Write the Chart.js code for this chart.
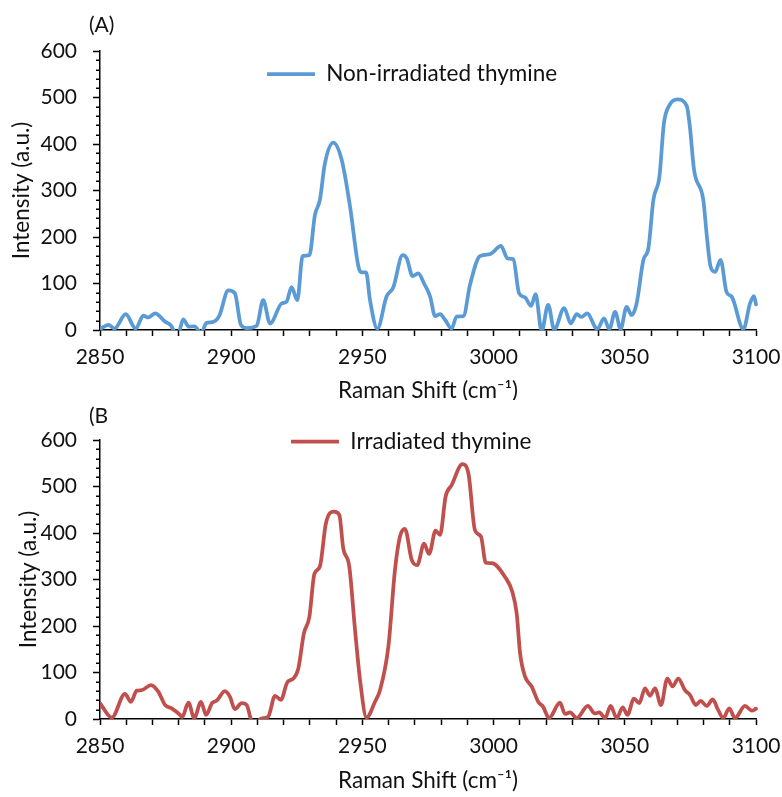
<!DOCTYPE html>
<html>
<head>
<meta charset="utf-8">
<script src="https://cdn.jsdelivr.net/npm/chart.js@4.4.1/dist/chart.umd.min.js"></script>
<style>
  html, body { margin: 0; padding: 0; background: #fff; }
  #wrap { position: relative; width: 782px; height: 797px; }
  canvas { position: absolute; left: 0; }
  .tag { position: absolute; font-family: Lato, sans-serif; font-size: 21px; line-height: 24px; color: #111; }
</style>
</head>
<body>
<div id="wrap">
  <canvas id="chartA" width="782" height="400" style="top:0"></canvas>
  <canvas id="chartB" width="782" height="402" style="top:395px"></canvas>
  <div class="tag" style="left:89px; top:12px">(A)</div>
  <div class="tag" style="left:89px; top:403px">(B</div>
</div>
<script>
// Raman shift (cm-1) and intensity (a.u.)
const shiftA = [2850, 2853.2, 2855.5, 2859.8, 2863.6, 2866.5, 2868.4, 2871, 2874.8, 2877, 2879, 2880.2,
  2881.7, 2883.9, 2886, 2888.5, 2890.6, 2892.8, 2895.4, 2898.9, 2901.4, 2903.7, 2905.9, 2909.7,
  2912.2, 2914.8, 2919.2, 2921.1, 2923, 2925.2, 2927.2, 2929.8, 2931.9, 2933.8, 2935.7, 2938.9,
  2942.1, 2945.3, 2948.5, 2949.7, 2951.4, 2952.9, 2955.7, 2959.2, 2961.8, 2965.3, 2966.9, 2969.1,
  2971.3, 2973.5, 2975.8, 2977.7, 2979.6, 2981.5, 2984, 2985.9, 2988.5, 2991, 2994.8, 2998.6,
  3002.8, 3005.3, 3007.5, 3009.7, 3012, 3014.3, 3016, 3018.3, 3020.8, 3023.1, 3026.9, 3029.4,
  3031.7, 3033.5, 3035.7, 3038.6, 3039.5, 3042.1, 3044.1, 3046.3, 3048.4, 3050.7, 3052.6, 3054.5,
  3057.1, 3059, 3060.9, 3063.2, 3064.9, 3067.2, 3070, 3073.6, 3074.8, 3076.4, 3079.9, 3081.4,
  3082.7, 3084.4, 3086.5, 3088.8, 3090.7, 3095.2, 3097.7, 3099.2, 3100];
const nonIrradiated = [2, 11, 3, 34, 3, 31, 27, 36, 18, 10, -8, -3,
  23, 7, 8, -6, 15, 17, 30, 85, 79, 11, 4, 9,
  64, 14, 57, 61, 92, 64, 159, 161, 247, 280, 358, 403,
  366, 265, 136, 124, 124, 64, 3, 72, 92, 161, 154, 116,
  122, 100, 72, 30, 34, 22, 3, 29, 30, 97, 159, 163,
  181, 154, 152, 79, 70, 52, 77, -2, 54, 1, 47, 14,
  34, 28, 36, 7, 2, 25, 2, 39, 2, 50, 32, 57,
  151, 176, 280, 330, 444, 485, 496, 482, 437, 344, 280, 194,
  136, 125, 151, 81, 72, 2, 57, 73, 55];

const shiftB = [2850, 2854.5, 2859.5, 2861.8, 2864, 2865.9, 2869.4, 2872.2, 2874.8, 2877.3, 2880.5, 2881.3,
  2883.7, 2885.9, 2888.5, 2890.4, 2892.8, 2894.4, 2897.6, 2899.5, 2901.4, 2904, 2905.9, 2908,
  2910, 2911.5, 2914.1, 2916.7, 2918.9, 2921.4, 2923.7, 2925.6, 2927.7, 2929.8, 2931.7, 2933.8,
  2936.1, 2939.2, 2941.2, 2942.7, 2945, 2947.2, 2949.1, 2951.6, 2954.8, 2956.7, 2959.9, 2962.4,
  2964.3, 2966.2, 2968.8, 2970.9, 2973.5, 2975.4, 2977.9, 2979.6, 2981.7, 2984, 2988.1, 2990.4,
  2992.9, 2995.2, 2997, 2999.3, 3004.3, 3007.1, 3008.8, 3010.1, 3012, 3014.5, 3017, 3018.9,
  3021.1, 3025.3, 3027.2, 3029.1, 3031.7, 3035.9, 3038.6, 3040.3, 3042.5, 3044.6, 3046.9, 3049.2,
  3051, 3053.5, 3055.5, 3057.7, 3059.6, 3061.5, 3063.8, 3066.2, 3068.2, 3070.4, 3072.9, 3074.8,
  3077.1, 3078.9, 3081.2, 3083.5, 3085.6, 3087.5, 3089.8, 3092, 3095.8, 3098.4, 3100];
const irradiated = [34, 3, 54, 37, 61, 62, 73, 59, 30, 23, 9, 4,
  35, 2, 37, 9, 35, 39, 60, 48, 21, 34, 30, -5,
  -5, 1, 5, 50, 41, 79, 87, 109, 184, 220, 312, 328,
  421, 446, 439, 367, 328, 191, 84, 3, 37, 62, 156, 320,
  392, 409, 342, 331, 377, 355, 405, 396, 478, 503, 548, 528,
  406, 392, 336, 335, 306, 274, 227, 141, 91, 70, 37, 26,
  2, 35, 11, 14, 2, 28, 12, 14, 2, 28, 2, 25,
  9, 44, 34, 66, 50, 66, 30, 87, 70, 87, 62, 52,
  30, 39, 28, 42, 19, 2, 23, 2, 28, 18, 22];

const xTicksLabelled = [2850, 2900, 2950, 3000, 3050, 3100];
const yTicksLabelled = [0, 100, 200, 300, 400, 500, 600];

Chart.defaults.font.family = 'Lato, "Open Sans", sans-serif';
Chart.defaults.color = '#111';

const LEGEND_FONT = 22.5;

// short minor ticks on the y axis (every 20)
const minorTicks = {
  id: 'minorTicks',
  afterDraw(chart) {
    const ys = chart.scales.y, ctx = chart.ctx, x0 = chart.chartArea.left;
    ctx.save();
    ctx.strokeStyle = '#000';
    ctx.lineWidth = 1.5;
    ys.ticks.forEach(t => {
      if (yTicksLabelled.includes(t.value)) return;
      const py = Math.round(ys.getPixelForValue(t.value)) + 0.25;
      ctx.beginPath();
      ctx.moveTo(x0 - 4, py);
      ctx.lineTo(x0, py);
      ctx.stroke();
    });
    ctx.restore();
  }
};

// move the legend to where Excel had it inside the plot (x = left of the line, y = centre)
const placeLegend = {
  id: 'placeLegend',
  afterLayout(chart, args, opts) {
    const lg = chart.legend;
    if (!lg) return;
    const w = lg.width, h = lg.height;
    lg.left = opts.x - 10;
    lg.top = opts.y - 10 - LEGEND_FONT / 2;
    lg.right = lg.left + w;
    lg.bottom = lg.top + h;
  }
};

function panel(id, xs, ys, label, color, cfg) {
  new Chart(document.getElementById(id), {
    type: 'line',
    data: {
      datasets: [{
        label: label,
        data: xs.map((x, i) => ({ x: x, y: ys[i] })),
        borderColor: color,
        backgroundColor: color,
        borderWidth: 3.75,
        borderCapStyle: 'round',
        borderJoinStyle: 'round',
        pointRadius: 0,
        fill: false,
        cubicInterpolationMode: 'monotone',
        clip: { left: 0, top: 10, right: 2, bottom: 0 }
      }]
    },
    options: {
      responsive: false,
      animation: false,
      devicePixelRatio: 1,
      layout: { padding: { left: 0, right: 26, top: cfg.top, bottom: 0 } },
      plugins: {
        tooltip: { enabled: false },
        legend: {
          position: 'chartArea',
          align: 'start',
          labels: {
            usePointStyle: true,
            pointStyle: 'line',
            pointStyleWidth: 48,
            font: { size: LEGEND_FONT },
            color: '#111',
            padding: 10
          }
        },
        placeLegend: { x: cfg.legendX, y: cfg.legendY }
      },
      scales: {
        x: {
          type: 'linear',
          min: 2850,
          max: 3100,
          ticks: {
            stepSize: 10,
            autoSkip: false,
            maxRotation: 0,
            padding: 9,
            font: { size: 21 },
            callback: v => xTicksLabelled.includes(v) ? String(v) : ''
          },
          grid: { drawOnChartArea: false, tickLength: 6, tickColor: '#000', tickWidth: 1.5 },
          border: { color: '#000', width: 1.5 },
          title: {
            display: true,
            text: 'Raman Shift (cm\u207B\u00B9)',
            font: { size: 22.5 },
            color: '#111',
            padding: { top: 0, bottom: cfg.xTitlePad }
          },
          afterFit: s => {
            s.height = cfg.axisH;
            s.paddingLeft = 0;
            s.paddingRight = 0;
          }
        },
        y: {
          min: 0,
          max: 600,
          ticks: {
            stepSize: 20,
            autoSkip: false,
            padding: 16,
            font: { size: 21 },
            callback: v => yTicksLabelled.includes(v) ? String(v) : ''
          },
          grid: {
            drawOnChartArea: false,
            tickLength: 7,
            tickWidth: 1.5,
            tickColor: c => (c.tick && yTicksLabelled.includes(c.tick.value)) ? '#000' : 'rgba(0,0,0,0)'
          },
          border: { color: '#000', width: 1.5 },
          title: {
            display: true,
            text: 'Intensity (a.u.)',
            font: { size: 22.5 },
            color: '#111',
            padding: { top: cfg.yTitlePad, bottom: 0 }
          },
          afterFit: s => { s.width = 100; }
        }
      }
    },
    plugins: [minorTicks, placeLegend]
  });
}

panel('chartA', shiftA, nonIrradiated, 'Non-irradiated thymine', '#5B9BD5',
  { top: 51, axisH: 70, xTitlePad: -4, yTitlePad: 8.5, legendX: 267, legendY: 74 });
panel('chartB', shiftB, irradiated, 'Irradiated thymine', '#C0504D',
  { top: 45, axisH: 78, xTitlePad: 3, yTitlePad: 15.5, legendX: 291, legendY: 46.7 });
</script>
</body>
</html>
